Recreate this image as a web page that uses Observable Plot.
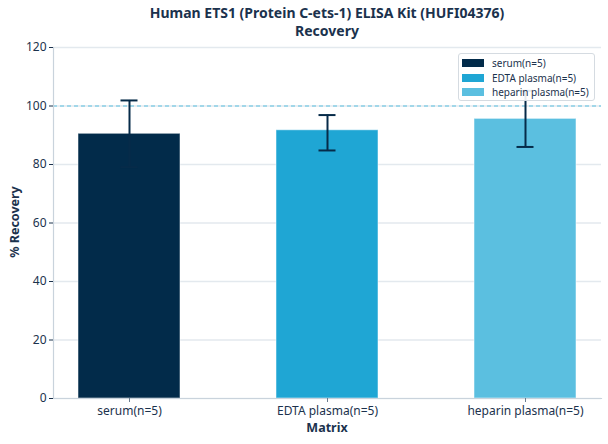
<!DOCTYPE html>
<html>
<head>
<meta charset="utf-8">
<script src="https://cdn.jsdelivr.net/npm/d3@7"></script>
<script src="https://cdn.jsdelivr.net/npm/@observablehq/plot@0.6"></script>
<style>
  html, body { margin: 0; padding: 0; background: #fff; }
  #wrap { position: relative; width: 608px; height: 444px; font-family: "Noto Sans", sans-serif; color: #1b324d; }
  #title { position: absolute; left: 53px; width: 548px; top: 4px; text-align: center; font-weight: bold; font-size: 14px; line-height: 18px; color: #1b324d; }
  #chart { position: absolute; left: 0; top: 38px; }
  #xlabel { position: absolute; left: 53px; width: 548px; top: 419px; text-align: center; font-weight: bold; font-size: 12.5px; color: #1b324d; }
  #ylabel { position: absolute; left: 14px; top: 222px; transform: translate(-50%, -50%) rotate(-90deg); white-space: nowrap; font-weight: bold; font-size: 12.5px; color: #1b324d; }
  #legend { position: absolute; left: 458px; top: 53px; width: 137px; height: 48px; border: 1px solid #d5dbe1; border-radius: 3px; background: rgba(255,255,255,0.9); box-sizing: border-box; padding-top: 2px; }
  .lrow { display: flex; align-items: center; height: 14.5px; font-size: 10px; white-space: nowrap; color: #1b324d; }
  .sw { width: 22px; height: 8px; margin-left: 3px; margin-right: 8px; flex: none; }
</style>
</head>
<body>
<div id="wrap">
  <div id="title">Human ETS1 (Protein C-ets-1) ELISA Kit (HUFI04376)<br>Recovery</div>
  <div id="chart"></div>
  <div id="xlabel">Matrix</div>
  <div id="ylabel">% Recovery</div>
  <div id="legend"></div>
</div>
<script>
const categories = ["serum(n=5)", "EDTA plasma(n=5)", "heparin plasma(n=5)"];
const recovery = [90.5, 91.7, 95.6];
const errLow = [79.1, 84.8, 86.0];
const errHigh = [101.9, 96.9, 105.2];
const colors = ["#022b4a", "#1fa6d4", "#5bbfe0"];
const yTicks = [0, 20, 40, 60, 80, 100, 120];
const refValue = [100];

const data = categories.map((c, i) => ({cat: c, val: recovery[i], lo: errLow[i], hi: errHigh[i]}));
const errColor = "#062b49";

const chart = Plot.plot({
  width: 608,
  height: 406,
  marginTop: 9,
  marginLeft: 53,
  marginRight: 7,
  marginBottom: 46,
  style: {fontFamily: "Noto Sans", fontSize: "12px", color: "#1b324d", background: "transparent"},
  x: {domain: categories, paddingInner: 0.485, paddingOuter: 0.126, label: null},
  y: {domain: [0, 120], label: null},
  color: {domain: categories, range: colors},
  marks: [
    Plot.gridY(yTicks, {stroke: "#e3e9ee", strokeOpacity: 1, strokeWidth: 1.5}),
    Plot.barY(data, {x: "cat", y: "val", fill: "cat", stroke: "#ffffff", strokeOpacity: 0.5, strokeWidth: 1}),
    Plot.ruleY(refValue, {stroke: "#5bc0e0", strokeDasharray: "4,3", strokeWidth: 1}),
    Plot.ruleX(data, {x: "cat", y1: "lo", y2: "hi", stroke: errColor, strokeWidth: 2}),
    Plot.tickY(data, {x: "cat", y: "lo", stroke: errColor, strokeWidth: 2, insetLeft: 42.5, insetRight: 42.5}),
    Plot.tickY(data, {x: "cat", y: "hi", stroke: errColor, strokeWidth: 2, insetLeft: 42.5, insetRight: 42.5}),
    Plot.frame({anchor: "left", stroke: "#c9d3dc", strokeWidth: 1.2}),
    Plot.frame({anchor: "bottom", stroke: "#c9d3dc", strokeWidth: 1.2}),
    Plot.axisY(yTicks, {label: null, tickSize: 4, tickPadding: 3, stroke: "#1b324d", fill: "#1b324d", fontSize: 12}),
    Plot.axisX({label: null, tickSize: 4, tickPadding: 4, stroke: "#6b7d8f", fill: "#1b324d", fontSize: 12})
  ]
});
document.getElementById("chart").appendChild(chart);

const leg = document.getElementById("legend");
categories.forEach((c, i) => {
  const row = document.createElement("div");
  row.className = "lrow";
  const sw = document.createElement("span");
  sw.className = "sw";
  sw.style.background = colors[i];
  const t = document.createElement("span");
  t.textContent = c;
  row.appendChild(sw);
  row.appendChild(t);
  leg.appendChild(row);
});
</script>
</body>
</html>
